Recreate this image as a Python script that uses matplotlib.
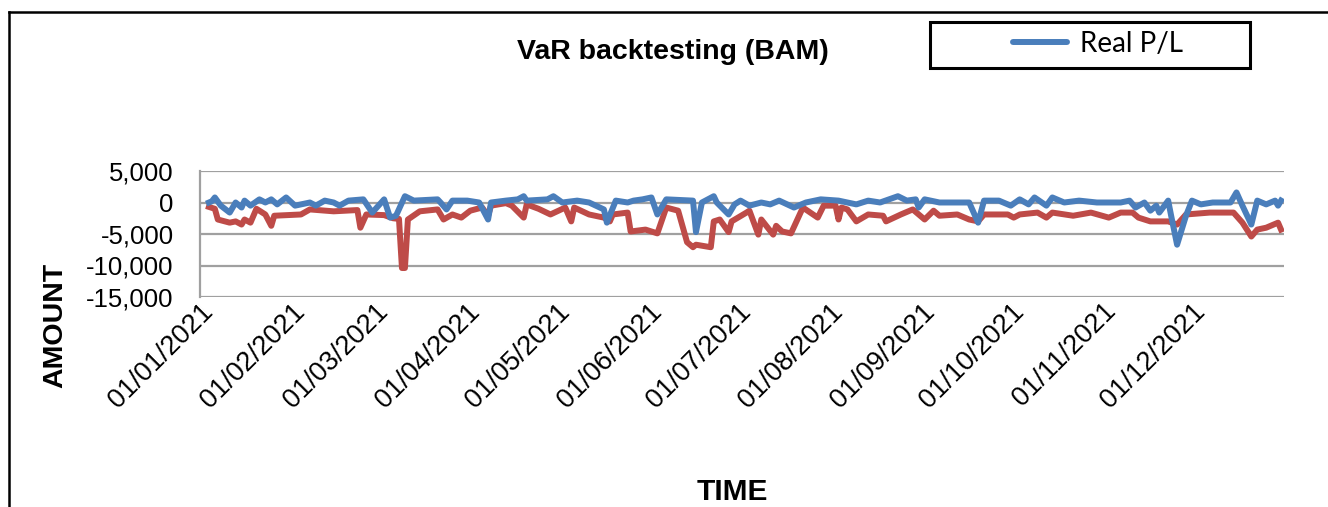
import numpy as np
import pandas as pd
import matplotlib
matplotlib.use('Agg')
import matplotlib.pyplot as plt
import matplotlib.dates as mdates
from matplotlib.ticker import FuncFormatter
from matplotlib.lines import Line2D
from matplotlib.patches import Rectangle

# day of year (0 = 01/01/2021)
real_day = [3, 4, 5, 7, 10, 12, 14, 15, 17, 20, 22, 24, 26, 29, 32, 37, 39, 42, 45, 47,
            50, 55, 58, 62, 64, 66, 69, 72, 80, 81, 83, 85, 90, 94, 97, 98, 103, 107, 109, 110,
            117, 119, 122, 127, 131, 136, 137, 140, 144, 146, 149, 152, 154, 157, 166, 167, 169, 173, 174, 178,
            180, 182, 185, 189, 192, 195, 200, 204, 209, 215, 221, 225, 229, 235, 238, 241, 242, 244, 249, 259,
            262, 264, 269, 273, 276, 279, 281, 285, 287, 291, 296, 302, 310, 313, 315, 318, 320, 322, 323, 326,
            327, 329, 332, 334, 337, 341, 347, 349, 351, 354, 356, 359, 362, 363, 364]
real_pl = [0, 200, 800, -500, -1600, 0, -800, 300, -500, 500, 0, 500, -300, 800, -500, 0, -500, 300, 0, -500,
           300, 500, -1600, 500, -2400, -2100, 1000, 300, 500, 0, -1100, 300, 300, 0, -2700, 0, 300, 500, 1000, 300,
           500, 1000, 0, 300, 0, -1100, -3200, 300, 0, 300, 500, 800, -1900, 500, 300, -4700, 0, 1000, 0, -1900,
           -300, 300, -500, 0, -300, 300, -800, 0, 500, 300, -300, 300, 0, 1000, 300, 500, -800, 500, 0, 0,
           -3200, 300, 300, -500, 500, -300, 800, -500, 800, 0, 300, 0, 0, 300, -800, 0, -1300, -500, -1600, 300,
           -2100, -6700, -2100, 300, -300, 0, 0, 1600, -500, -3500, 300, -300, 300, -500, 300]

var_day = [3, 5, 6, 10, 12, 14, 15, 17, 19, 22, 24, 25, 34, 37, 45, 53, 54, 56, 62, 65,
           67, 68, 69, 70, 74, 80, 82, 85, 88, 91, 95, 97, 98, 103, 105, 109, 110, 114, 118, 123,
           125, 126, 131, 136, 138, 139, 144, 145, 150, 154, 157, 161, 164, 166, 167, 172, 173, 175, 178, 179,
           184, 185, 188, 189, 193, 194, 196, 199, 203, 208, 210, 214, 215, 216, 218, 221, 225, 230, 231, 236,
           240, 244, 247, 249, 255, 259, 262, 264, 272, 274, 276, 282, 285, 287, 294, 300, 306, 310, 314, 316,
           320, 326, 329, 332, 340, 348, 351, 354, 356, 359, 363, 364]
var_value = [-700, -1000, -2700, -3200, -3000, -3500, -2700, -3200, -1000, -1900, -3700, -2100, -1900, -1100, -1400, -1200, -4000, -1900, -2000, -2500,
             -2600, -10400, -10400, -2700, -1400, -1100, -2700, -1900, -2400, -1300, -800, -2100, -500, -100, -500, -2400, -300, -1000, -1900, -800,
             -3000, -800, -1900, -2400, -3000, -1900, -1600, -4600, -4300, -4900, -800, -1300, -6300, -7100, -6700, -7100, -3000, -2700, -4700, -3000,
             -1600, -1300, -5100, -2700, -5100, -3700, -4600, -4900, -800, -2400, -500, -500, -2700, -800, -1100, -3000, -1900, -2100, -3000, -1900,
             -1100, -2700, -1300, -2100, -1900, -2700, -3000, -1900, -1900, -2400, -1900, -1600, -2400, -1600, -2100, -1600, -2400, -1600, -1600, -2400,
             -3000, -3000, -3500, -1900, -1600, -1600, -3200, -5400, -4300, -4000, -3200, -4300]

y_ticks = [-15000, -10000, -5000, 0, 5000]
x_ticks = pd.date_range('2021-01-01', '2021-12-01', freq='MS')

start = pd.Timestamp('2021-01-01')
real_dates = start + pd.to_timedelta(real_day, unit='D')
var_dates = start + pd.to_timedelta(var_day, unit='D')

BLUE = '#4a7ebb'
RED = '#be4b48'

fig = plt.figure(figsize=(13.28, 5.07), dpi=100)
ax = fig.add_axes([200 / 1328, 1 - 297 / 507, 1084 / 1328, 126 / 507])

ax.plot(var_dates, var_value, color=RED, lw=4.3, solid_joinstyle='round', zorder=3)
ax.plot(real_dates, real_pl, color=BLUE, lw=4.3, solid_joinstyle='round', zorder=4, label='Real P/L')

ax.set_ylim(-15000, 5000)
ax.set_yticks(y_ticks)
ax.yaxis.set_major_formatter(FuncFormatter(lambda v, p: f'{int(v):,}'))
ax.set_xlim(start, pd.Timestamp('2022-01-01'))
ax.set_xticks(x_ticks)
ax.xaxis.set_major_formatter(mdates.DateFormatter('%d/%m/%Y'))

ax.grid(axis='y', color='#a0a0a0', lw=1.6)
ax.set_axisbelow(True)
for s in ['top', 'right', 'bottom']:
    ax.spines[s].set_visible(False)
ax.spines['left'].set_color('#a0a0a0')
ax.spines['left'].set_linewidth(1.6)
ax.tick_params(length=0)
ax.tick_params(axis='y', labelsize=18.5, pad=19)
ax.tick_params(axis='x', labelsize=19.5, pad=1)
for lab in ax.get_yticklabels():
    lab.set_family('Liberation Sans')
for lab in ax.get_xticklabels():
    lab.set_family('Liberation Sans')
    lab.set_rotation(45)
    lab.set_ha('right')
    lab.set_rotation_mode('anchor')

fig.text(673 / 1328, 1 - 52 / 507, 'VaR backtesting (BAM)', ha='center', va='center',
         fontsize=20.5, fontweight='bold', family='Liberation Sans')
fig.text(55 / 1328, 1 - 325 / 507, 'AMOUNT', ha='center', va='center', rotation=90,
         fontsize=20.5, fontweight='bold', family='Liberation Sans')
fig.text(732 / 1328, 1 - 492 / 507, 'TIME', ha='center', va='center',
         fontsize=21.5, fontweight='bold', family='Liberation Sans')

# legend box
fig.add_artist(Rectangle((930 / 1328, 1 - 68 / 507), 320 / 1328, 46 / 507, transform=fig.transFigure,
                         facecolor='white', edgecolor='black', lw=2.2))
leg = fig.legend(handles=[ax.lines[1]], loc='center', bbox_to_anchor=(1098 / 1328, 1 - 44 / 507),
                 frameon=False, handlelength=1.95, handletextpad=0.45,
                 prop={'family': 'Lato', 'size': 20})
leg.get_lines()[0].set_solid_capstyle('round')

# outer chart border
fig.add_artist(Line2D([9 / 1328, 9 / 1328], [0, 1 - 12 / 507], transform=fig.transFigure, color='black', lw=1.8))
fig.add_artist(Line2D([9 / 1328, 1], [1 - 12 / 507, 1 - 12 / 507], transform=fig.transFigure, color='black', lw=1.8))

fig.savefig('out.png', dpi=100)
